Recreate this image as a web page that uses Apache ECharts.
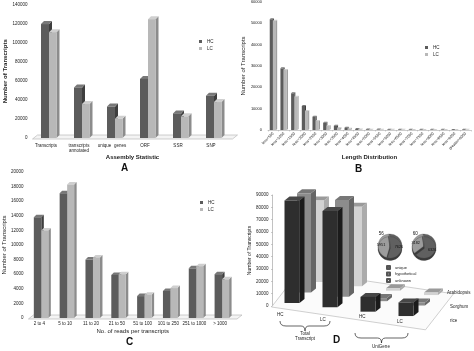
<!DOCTYPE html>
<html><head><meta charset="utf-8">
<script src="https://cdn.jsdelivr.net/npm/echarts@6/dist/echarts.min.js"></script>
<style>html,body{margin:0;padding:0;background:#fff}#c{width:474px;height:351px}</style>
</head><body><div id="c"></div>
<script>
// ---- Panel A: Assembly Statistic ----
const aCats = ['Transcripts', 'transcripts\nannotated', 'unique  genes', 'ORF', 'SSR', 'SNP'];
const aHC = [119500, 53000, 33000, 62000, 25800, 44300];
const aLC = [111000, 35600, 20200, 124600, 22700, 37700];

// ---- Panel B: Length Distribution ----
const bCats = ['less<500','less<1000','less<1500','less<2000','less<2500','less<3000','less<3500','less<4000','less<4500','less<5000','less<5500','less<6000','less<6500','less<7000','less<7500','less<8000','less<8500','less<9000','greater>9000'];
const bHC = [51900, 28900, 17200, 11250, 6250, 3400, 2000, 1100, 450, 280, 200, 160, 130, 110, 90, 70, 60, 50, 150];
const bLC = [51250, 28100, 15600, 8900, 4200, 1900, 940, 600, 250, 150, 110, 80, 60, 50, 40, 30, 25, 20, 60];

// ---- Panel C: No. of reads per transcripts ----
const cCats = ['2 to 4', '5 to 10', '11 to 20', '21 to 50', '51 to 100', '101 to 250', '251 to 1000', '> 1000'];
const cHC = [13800, 17100, 8000, 5900, 3000, 3700, 6800, 6000];
const cLC = [12000, 18300, 8300, 6000, 3200, 4100, 7100, 5300];

// ---- Panel D: 3D bars + pies ----
const dCats = ['HC', 'LC', 'HC', 'LC'];
const dRows = ['rice', 'Sorghum', 'Arabidopsis'];
const dRice = [83000, 78000, 12000, 11000];
const dSorghum = [80500, 78500, 2500, 2500];
const dArabidopsis = [66000, 64500, 2000, 2000];
const pieHC = [{name: 'unique', value: 7626}, {name: 'hypothetical', value: 5951}, {name: 'unknown', value: 56}];
const pieLC = [{name: 'unique', value: 6326}, {name: 'hypothetical', value: 3182}, {name: 'unknown', value: 60}];

const FONT = 'Liberation Sans';
const chart = echarts.init(document.getElementById('c'), null, {renderer: 'canvas'});

function bar3D(cfg) {
  return function (params, api) {
    const i = api.value(0), v = api.value(1);
    const p0 = api.coord([i, 0]), p1 = api.coord([i, v]);
    const cs = params.coordSys;
    const sh = cfg.shear ? (p0[0] - cs.x) * cfg.shear : 0;
    const x = p0[0] + cfg.off + (cfg.dx || 0);
    const yb = p0[1] + sh + (cfg.dy || 0);
    const yt = p1[1] + sh + (cfg.dy || 0);
    const w = cfg.w, d = cfg.d, e = cfg.e;
    return {type: 'group', children: [
      {type: 'polygon', shape: {points: [[x + w, yb], [x + w + d, yb - e], [x + w + d, yt - e], [x + w, yt]]}, style: {fill: cfg.side}},
      {type: 'polygon', shape: {points: [[x, yt], [x + d, yt - e], [x + w + d, yt - e], [x + w, yt]]}, style: {fill: cfg.top}},
      {type: 'rect', shape: {x: x, y: yt, width: w, height: Math.max(0, yb - yt)}, style: {fill: cfg.front}}
    ]};
  };
}
function floor(depthX, depthY, shear, fill) {
  return function (params) {
    const cs = params.coordSys;
    const x0 = cs.x - 1, x1 = cs.x + cs.width + 1, y0 = cs.y + cs.height + 1;
    const y1 = y0 + (shear ? cs.width * shear : 0);
    return {type: 'polygon', shape: {points: [[x0, y0], [x1, y1], [x1 + depthX, y1 - depthY], [x0 + depthX, y0 - depthY]]},
      style: {fill: fill || '#f4f4f4', stroke: '#b0b0b0', lineWidth: 0.6}};
  };
}
const pts = arr => arr.map((v, i) => [i, v]);
const HCc = {front: '#5c5c5c', side: '#3e3e3e', top: '#787878'};
const LCc = {front: '#b8b8b8', side: '#8c8c8c', top: '#cfcfcf'};
const tick = {fontSize: 4.5, color: '#222', fontFamily: FONT};
const plain = v => String(v);
const nameS = {fontSize: 6, fontWeight: 'bold', color: '#222', fontFamily: FONT};

function brace(x1, x2, y, h) {
  const m = (x1 + x2) / 2, hh = h / 2;
  const st = {stroke: '#222', lineWidth: 0.7, fill: null};
  const bz = (a, b, c) => ({type: 'bezierCurve', shape: {x1: a[0], y1: a[1], cpx1: b[0], cpy1: b[1], x2: c[0], y2: c[1]}, style: st});
  return [
    bz([x1, y], [x1, y + hh], [x1 + 6, y + hh]),
    {type: 'line', shape: {x1: x1 + 6, y1: y + hh, x2: m - 4, y2: y + hh}, style: st},
    bz([m - 4, y + hh], [m, y + hh], [m, y + h]),
    bz([m, y + h], [m, y + hh], [m + 4, y + hh]),
    {type: 'line', shape: {x1: m + 4, y1: y + hh, x2: x2 - 6, y2: y + hh}, style: st},
    bz([x2 - 6, y + hh], [x2, y + hh], [x2, y])
  ];
}
const txt = (t, x, y, opts) => ({type: 'text', x: x, y: y, z: 100, style: Object.assign({text: t, font: '4.5px "Liberation Sans"', fill: '#222'}, opts || {})});
const big = '700 10px "Liberation Sans"';
const pieItems = arr => arr.map(d => d.name === 'unknown'
  ? Object.assign({}, d, {label: {position: 'outside', fontSize: 4.5}, labelLine: {show: false, length: 0, length2: 0}})
  : d);
const pieSeries = (center, data) => ({
  type: 'pie', center: center, radius: 12, startAngle: 95, clockwise: true, data: pieItems(data),
  color: ['#606060', '#9c9c9c', '#d8d8d8'], z: 5,
  itemStyle: {borderColor: '#555', borderWidth: 0.3, shadowColor: '#3a3a3a', shadowOffsetY: 2.5, shadowBlur: 0},
  label: {position: 'inside', formatter: '{c}', fontSize: 3.8, color: '#111', fontFamily: FONT},
  labelLine: {show: false, length: 0, length2: 0}
});

const option = {
  animation: false,
  textStyle: {fontFamily: FONT},
  grid: [
    {left: 33.5, width: 198, top: 4.5, height: 133.5},
    {left: 268, width: 203, top: 2, height: 128},
    {left: 29, width: 207, top: 172, height: 146},
    {left: 272.5, width: 152, top: 195, height: 111}
  ],
  xAxis: [
    {gridIndex: 0, type: 'category', data: aCats, axisLine: {show: false}, axisTick: {show: false},
     axisLabel: Object.assign({interval: 0, margin: 5, padding: [0, 8, 0, 0], lineHeight: 5}, tick),
     name: 'Assembly Statistic', nameLocation: 'middle', nameGap: 16, nameTextStyle: nameS},
    {gridIndex: 1, type: 'category', data: bCats, axisLine: {lineStyle: {color: '#aaa', width: 0.6}}, axisTick: {show: true, lineStyle: {color: '#aaa', width: 0.5}, length: 1.5},
     axisLabel: Object.assign({interval: 0, rotate: 45, margin: 3}, tick, {fontSize: 3.8}),
     name: 'Length Distribution', nameLocation: 'middle', nameGap: 24, nameTextStyle: nameS},
    {gridIndex: 2, type: 'category', data: cCats, axisLine: {show: false}, axisTick: {show: false},
     axisLabel: Object.assign({interval: 0, margin: 3, padding: [0, 6, 0, 0]}, tick),
     name: 'No. of reads per transcripts', nameLocation: 'middle', nameGap: 10, nameTextStyle: Object.assign({}, nameS, {fontWeight: 'normal', fontSize: 6})},
    {gridIndex: 3, type: 'category', data: dCats, show: false}
  ],
  yAxis: [
    {gridIndex: 0, type: 'value', min: 0, max: 140000, interval: 20000, splitLine: {show: false}, axisLine: {show: false}, axisTick: {show: false},
     axisLabel: Object.assign({margin: 6, formatter: plain}, tick), name: 'Number of Transcripts', nameLocation: 'middle', nameGap: 25, nameTextStyle: nameS},
    {gridIndex: 1, type: 'value', min: 0, max: 60000, interval: 10000, splitLine: {show: false}, axisLine: {show: false}, axisTick: {show: false},
     axisLabel: Object.assign({margin: 6, formatter: plain}, tick, {fontSize: 4}), name: 'Number of Transcripts', nameLocation: 'middle', nameGap: 22, nameTextStyle: Object.assign({}, nameS, {fontWeight: 'normal'})},
    {gridIndex: 2, type: 'value', min: 0, max: 20000, interval: 2000, splitLine: {show: false}, axisLine: {show: false}, axisTick: {show: false},
     axisLabel: Object.assign({margin: 6, formatter: plain}, tick), name: 'Number of Transcripts', nameLocation: 'middle', nameGap: 22, nameTextStyle: Object.assign({}, nameS, {fontWeight: 'normal'})},
    {gridIndex: 3, type: 'value', min: 0, max: 90000, interval: 10000, splitLine: {show: false}, axisLine: {show: true, lineStyle: {color: '#999', width: 0.6}}, axisTick: {show: true, length: 1.5, lineStyle: {color: '#999', width: 0.5}},
     axisLabel: Object.assign({margin: 4, formatter: plain}, tick), name: 'Number of Transcripts', nameLocation: 'middle', nameGap: 20, nameTextStyle: Object.assign({}, nameS, {fontWeight: 'normal', fontSize: 5})}
  ],
  legend: [
    {data: ['HC', 'LC'], orient: 'vertical', left: 194, top: 34, itemWidth: 3, itemHeight: 3, itemGap: 2, textStyle: tick, icon: 'rect'},
    {data: ['HC', 'LC'], orient: 'vertical', left: 420, top: 40, itemWidth: 3, itemHeight: 3, itemGap: 2, textStyle: tick, icon: 'rect'},
    {data: ['HC', 'LC'], orient: 'vertical', left: 195, top: 195, itemWidth: 3, itemHeight: 3, itemGap: 2, textStyle: tick, icon: 'rect'},
    {data: ['unique', 'hypothetical', 'unknown'], orient: 'vertical', left: 381, top: 260, itemWidth: 3, itemHeight: 3, itemGap: 1.5, textStyle: Object.assign({}, tick, {fontSize: 4}), icon: 'rect'}
  ],
  series: [
    // A
    {type: 'custom', xAxisIndex: 0, yAxisIndex: 0, data: [[0, 0]], renderItem: floor(5, 4), silent: true},
    {name: 'HC', type: 'custom', xAxisIndex: 0, yAxisIndex: 0, data: pts(aHC), encode: {x: 0, y: 1}, itemStyle: {color: HCc.front},
     renderItem: bar3D(Object.assign({off: -9, w: 8, d: 3, e: 3}, HCc))},
    {name: 'LC', type: 'custom', xAxisIndex: 0, yAxisIndex: 0, data: pts(aLC), encode: {x: 0, y: 1}, itemStyle: {color: LCc.front},
     renderItem: bar3D(Object.assign({off: -1, w: 7.5, d: 3, e: 3}, LCc))},
    // B
    {name: 'HC', type: 'custom', xAxisIndex: 1, yAxisIndex: 1, data: pts(bHC), encode: {x: 0, y: 1}, itemStyle: {color: HCc.front},
     renderItem: bar3D(Object.assign({off: -3.6, w: 3.2, d: 1, e: 1}, HCc))},
    {name: 'LC', type: 'custom', xAxisIndex: 1, yAxisIndex: 1, data: pts(bLC), encode: {x: 0, y: 1}, itemStyle: {color: LCc.front},
     renderItem: bar3D(Object.assign({off: -0.4, w: 3.2, d: 1, e: 1}, LCc))},
    // C
    {type: 'custom', xAxisIndex: 2, yAxisIndex: 2, data: [[0, 0]], renderItem: floor(5, 4), silent: true},
    {name: 'HC', type: 'custom', xAxisIndex: 2, yAxisIndex: 2, data: pts(cHC), encode: {x: 0, y: 1}, itemStyle: {color: HCc.front},
     renderItem: bar3D(Object.assign({off: -8.5, w: 7.5, d: 2.5, e: 2.5}, HCc))},
    {name: 'LC', type: 'custom', xAxisIndex: 2, yAxisIndex: 2, data: pts(cLC), encode: {x: 0, y: 1}, itemStyle: {color: LCc.front},
     renderItem: bar3D(Object.assign({off: -1, w: 7, d: 2.5, e: 2.5}, LCc))},
    // D
    {type: 'custom', xAxisIndex: 3, yAxisIndex: 3, data: [[0, 0]], renderItem: floor(28, 36, 0.15, '#fbfbfb'), silent: true},
    {name: dRows[2], type: 'custom', xAxisIndex: 3, yAxisIndex: 3, data: pts(dArabidopsis), encode: {x: 0, y: 1},
     renderItem: bar3D({off: -14, w: 14, d: 5, e: 4, shear: 0.115, dx: 32.5, dy: -26.25, front: '#d2d2d2', side: '#ababab', top: '#9a9a9a'})},
    {name: dRows[1], type: 'custom', xAxisIndex: 3, yAxisIndex: 3, data: pts(dSorghum), encode: {x: 0, y: 1},
     renderItem: bar3D({off: -14, w: 14, d: 5, e: 4, shear: 0.115, dx: 19.5, dy: -15.75, front: '#8c8c8c', side: '#666', top: '#777'})},
    {name: dRows[0], type: 'custom', xAxisIndex: 3, yAxisIndex: 3, data: pts(dRice), encode: {x: 0, y: 1},
     renderItem: bar3D({off: -14, w: 15, d: 5, e: 4, shear: 0.115, dx: 7, dy: -5.25, front: '#2e2e2e', side: '#1b1b1b', top: '#474747'})},
    // pies
    pieSeries([390, 246], pieHC),
    pieSeries([424, 246], pieLC)
  ],
  graphic: [
    txt('A', 121, 163, {font: big, fill: '#111'}),
    txt('B', 355, 164, {font: big, fill: '#111'}),
    txt('C', 126, 337, {font: big, fill: '#111'}),
    txt('D', 333, 335, {font: big, fill: '#111'}),
    txt(dRows[2], 447, 290),
    txt(dRows[1], 450, 304),
    txt(dRows[0], 450, 318),
    txt(dCats[0], 277, 312),
    txt(dCats[1], 320, 317),
    txt(dCats[2], 359, 314),
    txt(dCats[3], 397, 319),
    ...brace(280, 330, 321, 10),
    ...brace(355, 408, 333, 10),
    txt('Total', 305, 331, {align: 'center'}),
    txt('Transcript', 305, 336, {align: 'center'}),
    txt('UniGene', 381, 344, {align: 'center'})
  ]
};
chart.setOption(option);
</script>
</body></html>
